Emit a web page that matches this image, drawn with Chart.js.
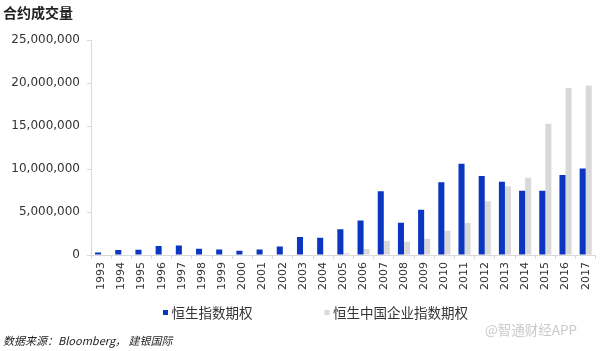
<!DOCTYPE html>
<html>
<head>
<meta charset="utf-8">
<script src="https://cdn.jsdelivr.net/npm/chart.js@4.4.0/dist/chart.umd.min.js"></script>
<style>
  html, body { margin: 0; padding: 0; background: #fff; }
  #wrap { width: 602px; height: 351px; position: relative; }
</style>
</head>
<body>
<div id="wrap"><canvas id="myChart"></canvas></div>
<script>
const years = ['1993', '1994', '1995', '1996', '1997', '1998', '1999', '2000', '2001', '2002', '2003', '2004', '2005',
    '2006', '2007', '2008', '2009', '2010', '2011', '2012', '2013', '2014', '2015', '2016', '2017'];
const hsiOptions = [280000, 580000, 620000, 1050000, 1100000, 730000, 650000, 500000, 650000, 1000000, 2100000, 2000000, 3000000,
    4000000, 7400000, 3750000, 5270000, 8450000, 10600000, 9190000, 8530000, 7480000, 7480000, 9300000, 10070000];
const hsceiOptions = [0, 0, 0, 0, 0, 0, 0, 0, 0, 0, 0, 0, 200000,
    700000, 1660000, 1550000, 1900000, 2830000, 3720000, 6240000, 7980000, 8990000, 15270000, 19420000, 19700000];
const seriesNames = ['恒生指数期权', '恒生中国企业指数期权'];
const yTicks = [0, 5000000, 10000000, 15000000, 20000000, 25000000];

const cjk = '"Noto Sans CJK SC", "Noto Sans", sans-serif';

// title, legend, source note and watermark
const extras = {
    id: 'extras',
    afterDraw(chart) {
        const c = chart.ctx;
        c.save();
        c.textBaseline = 'middle';
        c.textAlign = 'left';

        c.fillStyle = '#222';
        c.font = 'bold 14px ' + cjk;
        c.fillText('合约成交量', 3, 13);

        c.font = '13.5px ' + cjk;
        let x = 163;
        chart.data.datasets.forEach(ds => {
            c.fillStyle = ds.backgroundColor;
            c.fillRect(x, 310, 5, 5);
            c.fillStyle = '#333';
            c.fillText(ds.label, x + 8.5, 313);
            x += 8.5 + c.measureText(ds.label).width + 72;
        });

        c.fillStyle = '#c9c9c9';
        c.font = '13.5px ' + cjk;
        c.fillText('@智通财经APP', 485, 330);

        c.fillStyle = '#222';
        c.font = 'italic 11px ' + cjk;
        c.fillText('数据来源：Bloomberg， 建银国际', 3, 341);
        c.restore();
    }
};

const ctx = document.getElementById('myChart');

new Chart(ctx, {
    type: 'bar',
    data: {
        labels: years,
        datasets: [{
            label: seriesNames[0],
            data: hsiOptions,
            backgroundColor: '#0a36c1',
            borderWidth: 0,
        }, {
            label: seriesNames[1],
            data: hsceiOptions,
            backgroundColor: '#d9d9d9',
            borderWidth: 0,
        }]
    },
    options: {
        responsive: true,
        maintainAspectRatio: false,
        animation: false,
        layout: {
            padding: { left: 0, right: 5, top: 40, bottom: 56 }
        },
        datasets: {
            bar: { categoryPercentage: 0.6, barPercentage: 1 }
        },
        plugins: {
            legend: { display: false },
            tooltip: { enabled: false }
        },
        scales: {
            x: {
                grid: { offset: true, drawOnChartArea: false, tickLength: 4, color: '#d9d9d9' },
                border: { color: '#d9d9d9' },
                ticks: {
                    minRotation: 90, maxRotation: 90, autoSkip: false,
                    color: '#333', padding: 3,
                    font: { family: '"DejaVu Sans"', size: 11 }
                },
                afterFit(scale) { scale.height = 40; }
            },
            y: {
                min: 0,
                max: 25000000,
                afterBuildTicks(scale) { scale.ticks = yTicks.map(v => ({ value: v })); },
                grid: { drawOnChartArea: false, tickLength: 4, color: '#d9d9d9' },
                border: { color: '#d9d9d9' },
                ticks: {
                    color: '#333', padding: 7,
                    font: { family: '"DejaVu Sans"', size: 12 },
                    callback: v => v.toLocaleString('en-US')
                },
                afterFit(scale) { scale.width = 91; }
            }
        }
    },
    plugins: [extras]
});
</script>
</body>
</html>
